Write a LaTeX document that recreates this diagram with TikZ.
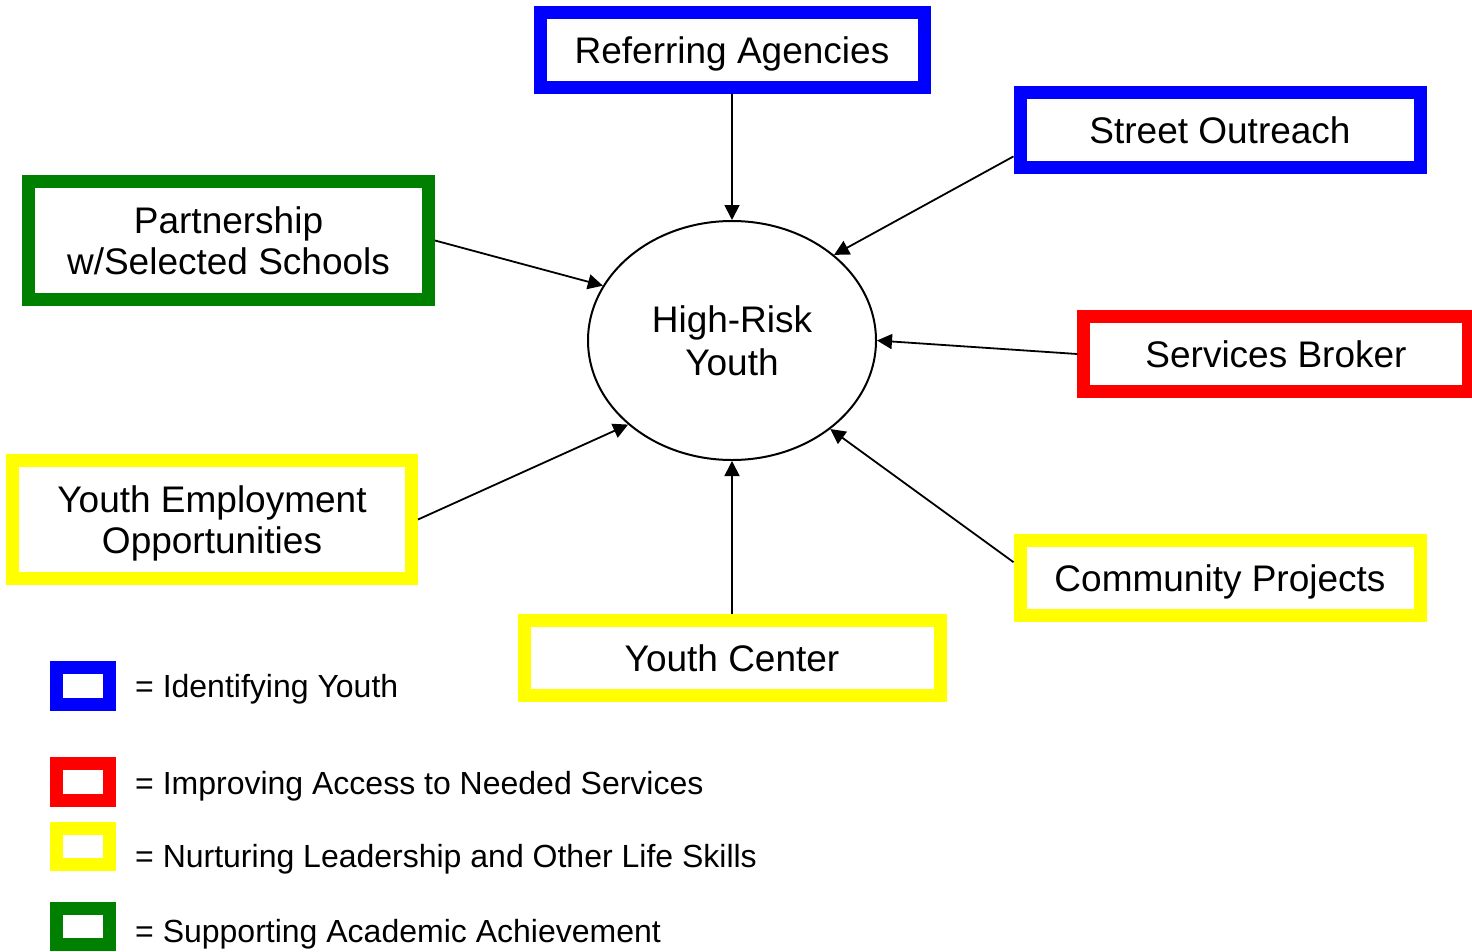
\documentclass[tikz,border=0pt]{standalone}
\usepackage{fontspec}
\setmainfont{Liberation Sans}
\usetikzlibrary{arrows.meta,shapes.geometric,calc}
\definecolor{cblue}{RGB}{0,0,255}
\definecolor{cgreen}{RGB}{0,128,0}
\definecolor{cred}{RGB}{255,0,0}
\definecolor{cyellow}{RGB}{255,255,0}
\begin{document}
\begin{tikzpicture}[x=1pt,y=-1pt,
  box/.style={draw=#1, line width=13pt, inner sep=0pt, minimum height=75pt,
    align=center, font=\fontsize{37}{41}\selectfont, text depth=0pt},
  conn/.style={line width=1.8pt, -{Triangle[length=15pt,width=15pt]}},
  key/.style={draw=#1, line width=13pt, minimum width=53pt, minimum height=36.5pt, inner sep=0pt},
  keytext/.style={anchor=base west, inner sep=0pt, font=\fontsize{32}{38}\selectfont}]
\useasboundingbox (0,0) rectangle (1472,951);
\fill[white] (0,0) rectangle (1472,951);
\node[box=cblue, minimum width=384pt] (ra) at (732,50) {Referring Agencies};
\node[box=cblue, minimum width=400pt] (so) at (1220,130) {Street Outreach};
\node[box=cgreen, minimum width=400pt, minimum height=118pt] (ps) at (228.5,240.5) {Partnership\\w/Selected Schools};
\node[box=cred, minimum width=384.5pt] (sb) at (1276,354) {Services Broker};
\node[box=cyellow, minimum width=399pt, minimum height=118pt] (ye) at (212,519.5) {Youth Employment\\Opportunities};
\node[box=cyellow, minimum width=400pt] (cp) at (1220,578) {Community Projects};
\node[box=cyellow, minimum width=416pt] (yc) at (732,658) {Youth Center};
\node[draw, ellipse, line width=2pt, minimum width=288pt, minimum height=239pt, inner sep=0pt,
  align=center, font=\fontsize{37}{43}\selectfont, text depth=0pt] (hr) at (732,340.5) {High-Risk\\Youth};

\draw[conn] (ra.south) -- (hr.north);
\draw[conn] ($(so.south west)!0.2!(so.north west)$) -- (hr.40);
\draw[conn] (ps.east) -- (hr.157.5);
\draw[conn] (sb.west) -- (hr.0);
\draw[conn] (ye.east) -- (hr.219.6);
\draw[conn] ($(cp.south west)!0.68!(cp.north west)$) -- (hr.318);
\draw[conn] (yc.north) -- (hr.south);

\node[key=cblue] (k1) at (83,686) {};
\node[key=cred] (k2) at (83,782) {};
\node[key=cyellow] (k3) at (83,846.5) {};
\node[key=cgreen] (k4) at (83,926.5) {};
\node[keytext] (t1) at (135,697) {= Identifying Youth};
\node[keytext] (t2) at (135,794) {= Improving Access to Needed Services};
\node[keytext] (t3) at (135,867) {= Nurturing Leadership and Other Life Skills};
\node[keytext] (t4) at (135,942) {= Supporting Academic Achievement};
\end{tikzpicture}
\end{document}
